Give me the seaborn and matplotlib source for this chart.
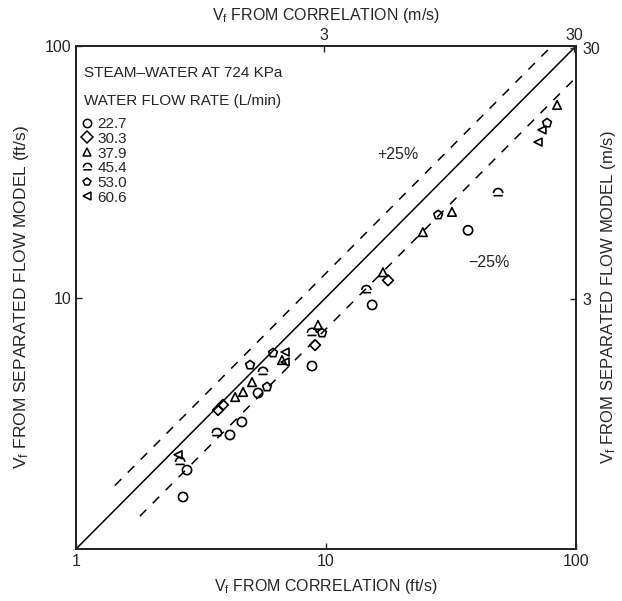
import numpy as np
import pandas as pd
import matplotlib
matplotlib.use("Agg")
import matplotlib.pyplot as plt
from matplotlib.path import Path
from matplotlib.lines import Line2D
import seaborn as sns

# ---- data (ft/s) ----
rates = ["22.7", "30.3", "37.9", "45.4", "53.0", "60.6"]

x_227 = [2.68, 2.78, 4.13, 4.61, 5.35, 8.79, 15.3, 37.0]
y_227 = [1.61, 2.06, 2.84, 3.20, 4.17, 5.34, 9.34, 18.5]

x_303 = [3.70, 3.87, 9.04, 17.7]
y_303 = [3.57, 3.74, 6.47, 11.7]

x_379 = [4.33, 4.66, 5.06, 6.67, 9.29, 16.9, 24.4, 31.9, 84.0]
y_379 = [4.02, 4.21, 4.61, 5.64, 7.78, 12.6, 18.2, 21.9, 58.3]

x_454 = [2.61, 3.66, 5.60, 8.79, 14.5, 48.8]
y_454 = [2.22, 2.89, 5.06, 7.23, 10.7, 26.0]

x_530 = [4.97, 5.81, 6.14, 9.64, 28.1, 76.6]
y_530 = [5.39, 4.41, 6.02, 7.23, 21.3, 49.4]

x_606 = [2.56, 6.86, 6.86, 73.1, 70.5]
y_606 = [2.37, 6.07, 5.54, 46.4, 41.5]

xs = [x_227, x_303, x_379, x_454, x_530, x_606]
ys = [y_227, y_303, y_379, y_454, y_530, y_606]

df = pd.concat([pd.DataFrame({"x": a, "y": b, "rate": r}) for a, b, r in zip(xs, ys, rates)],
               ignore_index=True)

top_ticks_ms = [3, 30]
FT = 0.3048

# ---- style ----
sns.set_style("ticks")
plt.rcParams["font.family"] = ["Liberation Sans", "DejaVu Sans"]
plt.rcParams["mathtext.fontset"] = "custom"
plt.rcParams["mathtext.rm"] = "Liberation Sans"
plt.rcParams["mathtext.it"] = "Liberation Sans"

arc = Path.arc(0, 180)
bar = Path([[-1.0, -0.55], [1.0, -0.55]], [Path.MOVETO, Path.LINETO])
m_454 = Path.make_compound_path(arc, bar)
markers = {"22.7": "o", "30.3": "D", "37.9": "^", "45.4": m_454, "53.0": "p", "60.6": "<"}
sizes = {"22.7": 44, "30.3": 30, "37.9": 38, "45.4": 44, "53.0": 44, "60.6": 32}

fig = plt.figure(figsize=(6.22, 6.01), dpi=100)
ax = fig.add_axes([76/622, 52/601, 500/622, 503/601])

for r in rates:
    sub = df[df["rate"] == r]
    sns.scatterplot(data=sub, x="x", y="y", marker=markers[r], s=sizes[r],
                    facecolor="none", edgecolor="black", linewidth=1.2, ax=ax,
                    legend=False)

ax.set_xscale("log")
ax.set_yscale("log")
ax.set_xlim(1, 100)
ax.set_ylim(1, 100)

# reference lines
ax.plot([1, 100], [1, 100], color="black", lw=1.1)
xu = np.array([1.43, 80.0])
ax.plot(xu, 1.25 * xu, color="black", lw=1.1, ls=(0, (6, 6)))
xl = np.array([1.8, 100.0])
ax.plot(xl, 0.75 * xl, color="black", lw=1.1, ls=(0, (6, 6)))

ax.text(19.4, 36.9, "+25%", fontsize=11.5, ha="center", va="center")
ax.text(44.9, 13.8, "\u221225%", fontsize=11.5, ha="center", va="center")

ax.set_xticks([1, 10, 100])
ax.set_xticklabels(["1", "10", "100"])
ax.set_yticks([10, 100])
ax.set_yticklabels(["10", "100"])
ax.minorticks_off()
ax.tick_params(direction="in", length=4, labelsize=11.5, width=1)
ax.set_xlabel("V$_f$ FROM CORRELATION (ft/s)", fontsize=11.5, labelpad=6)
ax.set_ylabel("V$_f$ FROM SEPARATED FLOW MODEL (ft/s)", fontsize=12.5, labelpad=10)

for s in ax.spines.values():
    s.set_visible(True)
    s.set_linewidth(1.3)

# top axis (m/s)
axt = ax.twiny()
axt.set_xscale("log")
axt.set_xlim(1, 100)
axt.set_xticks([v / FT for v in top_ticks_ms])
axt.set_xticklabels([str(v) for v in top_ticks_ms])
axt.minorticks_off()
axt.tick_params(direction="in", length=4, labelsize=11.5, width=1, pad=2)
axt.set_xlabel("V$_f$ FROM CORRELATION (m/s)", fontsize=11.5, labelpad=6)

# right axis (m/s)
axr = ax.twinx()
axr.set_yscale("log")
axr.set_ylim(1, 100)
axr.set_yticks([v / FT for v in top_ticks_ms])
axr.set_yticklabels([str(v) for v in top_ticks_ms])
axr.minorticks_off()
axr.tick_params(direction="in", length=4, labelsize=11.5, width=1, pad=5)
axr.set_ylabel("V$_f$ FROM SEPARATED FLOW MODEL (m/s)", fontsize=12, labelpad=-1,
               rotation=90)
for a in (axt, axr):
    for s in a.spines.values():
        s.set_linewidth(1.3)

# legend block
ax.text(0.016, 0.946, "STEAM\u2013WATER AT 724 KPa", transform=ax.transAxes,
        fontsize=11, ha="left", va="center")
ax.text(0.016, 0.891, "WATER FLOW RATE (L/min)", transform=ax.transAxes,
        fontsize=11, ha="left", va="center")
handles = [Line2D([], [], ls="none", marker=markers[r], markersize=6,
                  markerfacecolor="none", markeredgecolor="black", markeredgewidth=1.1)
           for r in rates]
ax.legend(handles, rates, loc="upper left", bbox_to_anchor=(0.0, 0.868),
          frameon=False, fontsize=11, handlelength=0.8, handletextpad=0.3,
          labelspacing=0.05, borderpad=0, borderaxespad=0.3)

fig.savefig("out.png", dpi=100)
